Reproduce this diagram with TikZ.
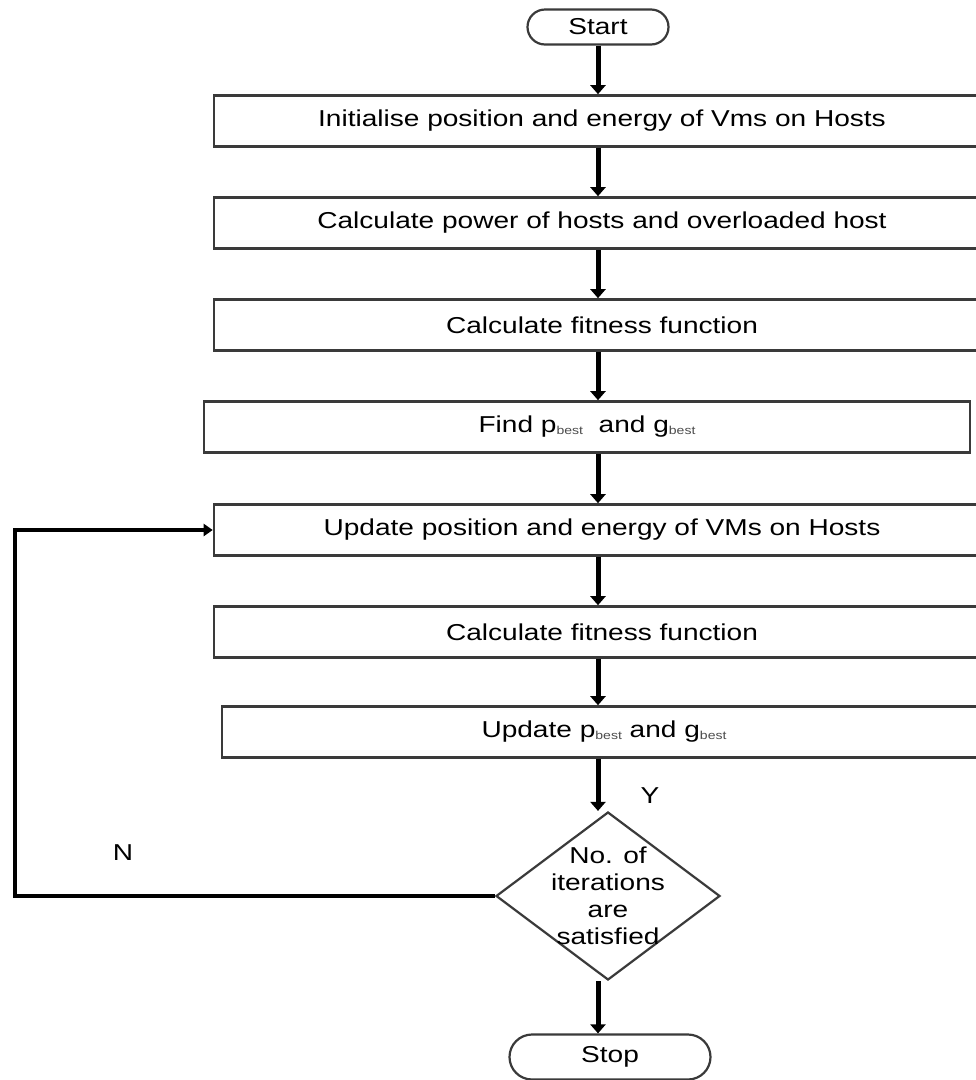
\documentclass[tikz,border=0pt]{standalone}
\usepackage{fontspec}
\setmainfont[FakeStretch=1.22]{Liberation Sans}
\usetikzlibrary{arrows.meta,shapes.geometric,shapes.misc}
\definecolor{boxline}{HTML}{3A3A3A}
\tikzset{
  stepbox/.style={draw=boxline,line width=2.6pt,rectangle,minimum height=51pt,inner sep=0pt,font=\fontsize{23}{27}\selectfont},
  term/.style={draw=boxline,line width=2.2pt,rounded rectangle,inner sep=0pt,font=\fontsize{23}{27}\selectfont},
  flow/.style={line width=5pt,-{Triangle[width=15pt,length=9pt]}},
  back/.style={line width=3.8pt,-{Triangle[width=12pt,length=9pt]}},
  lbl/.style={font=\fontsize{23}{27}\selectfont,inner sep=0pt}
}
\newcommand{\bsub}[1]{\raisebox{-1.5pt}{\textcolor{black!70}{\fontsize{11.5}{11.5}\selectfont #1}}}
\begin{document}
\begin{tikzpicture}[x=1pt,y=-1pt]
\useasboundingbox[fill=white] (0,0) rectangle (976,1080);
\clip (0,0) rectangle (976,1080);
\node[term,minimum width=141pt,minimum height=35pt] (start) at (598,27) {Start};
\node[stepbox,minimum width=776pt] (b1) at (602,121) {Initialise position and energy of Vms on Hosts};
\node[stepbox,minimum width=776pt] (b2) at (602,223) {Calculate power of hosts and overloaded host};
\node[stepbox,minimum width=776pt] (b3) at (602,325) {Calculate fitness function};
\node[stepbox,minimum width=766pt] (b4) at (587,427) {Find p\bsub{best}\ \ and g\bsub{best}};
\node[stepbox,minimum width=776pt] (b5) at (602,530) {Update position and energy of VMs on Hosts};
\node[stepbox,minimum width=776pt] (b6) at (602,632) {Calculate fitness function};
\node[stepbox,minimum width=764pt] (b7) at (604,732) {Update p\bsub{best} and g\bsub{best}};
\node[draw=boxline,line width=2.2pt,diamond,inner sep=0pt,minimum width=224pt,minimum height=168pt] (dia) at (608,896) {};
\node[align=center,inner sep=0pt,font=\fontsize{23}{27}\selectfont] (diatext) at (dia.center)
      {No. of\\iterations\\are\\satisfied};
\node[term,minimum width=201pt,minimum height=45pt] (stop) at (610,1057) {Stop};
\coordinate (lc) at (15,888);
\draw[flow] (start.south) -- (b1.north -| start.south);
\draw[flow] (b1.south -| start.south) -- (b2.north -| start.south);
\draw[flow] (b2.south -| start.south) -- (b3.north -| start.south);
\draw[flow] (b3.south -| start.south) -- (b4.north -| start.south);
\draw[flow] (b4.south -| start.south) -- (b5.north -| start.south);
\draw[flow] (b5.south -| start.south) -- (b6.north -| start.south);
\draw[flow] (b6.south -| start.south) -- (b7.north -| start.south);
\draw[flow] (b7.south -| start.south) -- (dia.north -| start.south);
\draw[flow] (dia.south -| start.south) -- (stop.north -| start.south);
\draw[back] (dia.west) -- (dia.west -| lc) |- (b5.west);
\node[lbl] (ylab) at (650,796) {Y};
\node[lbl] (nlab) at (123,853) {N};
\end{tikzpicture}
\end{document}
